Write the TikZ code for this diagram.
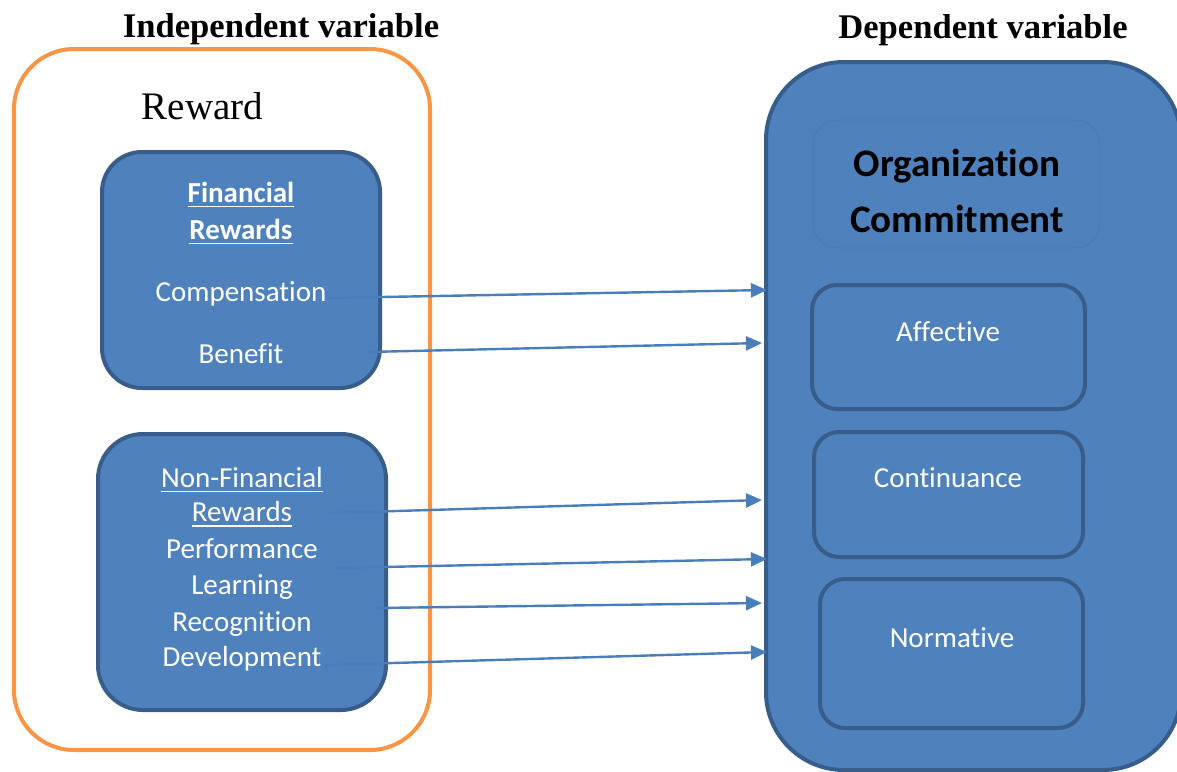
\documentclass[tikz,border=0pt]{standalone}
\usepackage{fontspec}
\setmainfont{Liberation Serif}
\newfontfamily\carlito{Carlito}[Ligatures=NoCommon]
\usepackage{xcolor}
\usetikzlibrary{arrows.meta}

\definecolor{boxblue}{HTML}{4F81BD}
\definecolor{boxedge}{HTML}{385D8A}
\definecolor{rewardorange}{HTML}{F79646}
\definecolor{linkblue}{HTML}{4A7EBB}

% underlined word with a rule the width of the word
\newsavebox\ulbox
\newcommand{\ulined}[1]{\sbox\ulbox{#1}\rlap{\usebox\ulbox}\rule[-5pt]{\wd\ulbox}{1.8pt}}

\begin{document}
\begin{tikzpicture}[x=1pt, y=-1pt,
  every node/.style={inner sep=0pt, text depth=0pt},
  group/.style={draw=rewardorange, line width=4pt, rounded corners=60pt},
  block/.style={draw=boxedge, fill=boxblue, line width=4pt, rounded corners=#1},
  block/.default=40pt,
  item/.style={text=white, font=\carlito\fontsize{29}{34}\selectfont, text height=18.6pt},
  title/.style={font=\carlito\bfseries\fontsize{39}{44}\selectfont, text height=25pt},
  heading/.style={font=\bfseries\fontsize{34.6}{40}\selectfont, text height=22.9pt},
  link/.style={draw=linkblue, line width=2.4pt, -{Triangle[length=16pt, width=14pt]}}
]
\useasboundingbox (0,0) rectangle (1177,771);

% left side: reward and its two groups
\node[group, minimum width=416pt, minimum height=701pt] (reward) at (222,399.5) {};
\node[block, minimum width=278pt, minimum height=236pt] (fin) at (241,270) {};
\node[block=45pt, minimum width=288pt, minimum height=276pt] (nonfin) at (242,572) {};

% right side: commitment and its three parts
\node[block=78pt, minimum width=415pt, minimum height=708pt] (commit) at (973.5,416) {};
\node[draw=boxedge!20!boxblue, line width=0.8pt, rounded corners=25pt,
  minimum width=287pt, minimum height=128pt] (titlebox) at (956.5,184) {};
\node[block=25pt, minimum width=273pt, minimum height=124pt] (aff) at (948.5,347) {};
\node[block=25pt, minimum width=269pt, minimum height=125pt] (cont) at (948.5,494.5) {};
\node[block=25pt, minimum width=263pt, minimum height=149pt] (norm) at (951.5,653.5) {};

% headings
\node[heading] (iv) at (281,26.5) {Independent variable};
\node[heading] (dv) at (983,27) {Dependent variable};
\node[font=\fontsize{39}{44}\selectfont, text height=25.8pt] (rw) at (202.5,106.5) {Reward};

% financial rewards
\node[item] (fr1) at (241,193) {\bfseries\ulined{Financial}};
\node[item] (fr2) at (241,230) {\bfseries\ulined{Rewards}};
\node[item] (comp) at (241,292) {Compensation};
\node[item] (ben) at (241,354.5) {Benefit};

% non-financial rewards
\node[item] (nf1) at (242,478) {\ulined{Non-Financial}};
\node[item] (nf2) at (242,512.5) {\ulined{Rewards}};
\node[item] (perf) at (242,549) {Performance};
\node[item] (learn) at (242,585.5) {Learning};
\node[item] (recog) at (242,622) {Recognition};
\node[item] (dev) at (242,657) {Development};

% commitment texts
\node[title] (org) at (957,163.5) {Organization};
\node[title] (com) at (957,220) {Commitment};
\node[item] (afft) at (948,332.5) {Affective};
\node[item] (contt) at (948,478) {Continuance};
\node[item] (normt) at (952,638.5) {Normative};

% arrow ends
\coordinate (s1) at (327,298);  \coordinate (t1) at (767,290);
\coordinate (s2) at (367,352);  \coordinate (t2) at (762,343);
\coordinate (s3) at (330,513);  \coordinate (t3) at (762,500);
\coordinate (s4) at (335,568);  \coordinate (t4) at (767,559);
\coordinate (s5) at (375,608);  \coordinate (t5) at (762,603);
\coordinate (s6) at (325,665);  \coordinate (t6) at (767,652);

\foreach \i in {1,...,6}
  \draw[link] (s\i) -- (t\i);
\end{tikzpicture}
\end{document}
